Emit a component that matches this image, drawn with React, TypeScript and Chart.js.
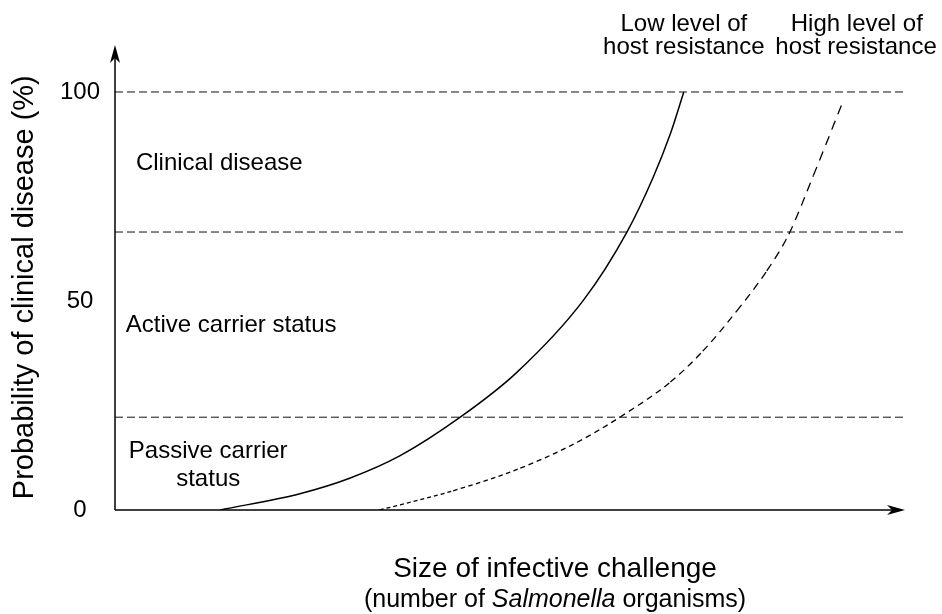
import { useEffect, useRef } from "react";
import { Chart, registerables } from "chart.js";

Chart.register(...registerables);

const FONT = '"Liberation Sans", Arial, Helvetica, sans-serif';

// Low level of host resistance (solid curve)
const lowResX = [13.3, 23.4, 29.7, 36.1, 43.7, 50.8, 59.3, 64.8, 68.1, 70.3, 72.0];
const lowResY = [0, 3.9, 7.6, 13.0, 22.2, 32.8, 50.2, 66.5, 79.5, 90.0, 100];

// High level of host resistance (dashed curve)
const highResX = [33.5, 42.8, 51.3, 58.5, 63.9, 70.3, 74.4, 78.7, 82.5, 85.3, 88.4, 92.2];
const highResY = [0, 4.6, 10.0, 16.2, 22.2, 30.6, 38.0, 47.6, 57.2, 66.0, 80.0, 98.0];

// Zone boundaries (probability %)
const zoneBoundaries = [22.2, 66.5, 100];
const xDomain = [0, 100];
const yTicks = [0, 50, 100];
const yMax = 111;

const zoneNames = [["Clinical disease"], ["Active carrier status"], ["Passive carrier", "status"]];
const curveNames = [["Low level of", "host resistance"], ["High level of", "host resistance"]];
const yTitle = "Probability of clinical disease (%)";
const xTitle = "Size of infective challenge";
const xSubtitleParts: [string, boolean][] = [["(number of ", false], ["Salmonella", true], [" organisms)", false]];

function drawArrow(ctx: CanvasRenderingContext2D, tx: number, ty: number, dx: number, dy: number) {
  const len = 18, half = 5, notch = 13;
  const px = -dy, py = dx;
  ctx.beginPath();
  ctx.moveTo(tx, ty);
  ctx.lineTo(tx - dx * len + px * half, ty - dy * len + py * half);
  ctx.lineTo(tx - dx * notch, ty - dy * notch);
  ctx.lineTo(tx - dx * len - px * half, ty - dy * len - py * half);
  ctx.closePath();
  ctx.fill();
}

const annotatePlugin = {
  id: "annotate",
  afterDatasetsDraw(chart: any) {
    const { ctx, chartArea, scales } = chart;
    const xs = scales.x, ys = scales.y;
    ctx.save();
    ctx.strokeStyle = "#000";
    ctx.fillStyle = "#000";
    ctx.lineWidth = 1.5;
    ctx.setLineDash([]);
    const x0 = xs.getPixelForValue(xDomain[0]);
    const y0 = ys.getPixelForValue(0);
    const xEnd = xs.getPixelForValue(xDomain[1]);
    const yTop = chartArea.top - 1;
    // x axis
    ctx.beginPath();
    ctx.moveTo(x0, y0);
    ctx.lineTo(xEnd - 12, y0);
    ctx.stroke();
    drawArrow(ctx, xEnd, y0, 1, 0);
    // y axis
    ctx.beginPath();
    ctx.moveTo(x0, y0);
    ctx.lineTo(x0, yTop + 12);
    ctx.stroke();
    drawArrow(ctx, x0, yTop, 0, -1);

    ctx.textAlign = "center";
    ctx.textBaseline = "alphabetic";
    ctx.font = `24px ${FONT}`;
    const txt = (s: string, xv: number, yv: number) =>
      ctx.fillText(s, xs.getPixelForValue(xv), ys.getPixelForValue(yv));

    // zone labels
    txt(zoneNames[0][0], 13.2, 81.3);
    txt(zoneNames[1][0], 14.7, 42.6);
    txt(zoneNames[2][0], 11.8, 12.4);
    txt(zoneNames[2][1], 11.8, 5.7);

    // curve labels
    txt(curveNames[0][0], 72.0, 114.6);
    txt(curveNames[0][1], 72.0, 109.1);
    txt(curveNames[1][0], 93.9, 114.6);
    txt(curveNames[1][1], 93.8, 109.1);

    // x title
    const cx = xs.getPixelForValue(55.7);
    ctx.font = `28px ${FONT}`;
    ctx.fillText(xTitle, cx, chartArea.bottom + 67);
    // subtitle with italic part
    const fonts = [`25px ${FONT}`, `italic 25px ${FONT}`];
    let total = 0;
    const widths = xSubtitleParts.map(([s, it]) => {
      ctx.font = fonts[it ? 1 : 0];
      const w = ctx.measureText(s).width;
      total += w;
      return w;
    });
    let sx = cx - total / 2;
    ctx.textAlign = "left";
    xSubtitleParts.forEach(([s, it], i) => {
      ctx.font = fonts[it ? 1 : 0];
      ctx.fillText(s, sx, chartArea.bottom + 97);
      sx += widths[i];
    });

    // y title
    ctx.save();
    ctx.translate(25, ys.getPixelForValue(53.3));
    ctx.rotate(-Math.PI / 2);
    ctx.textAlign = "center";
    ctx.textBaseline = "middle";
    ctx.font = `29px ${FONT}`;
    ctx.fillText(yTitle, 0, 0);
    ctx.restore();

    ctx.restore();
  },
};

export default function App() {
  const ref = useRef<HTMLCanvasElement | null>(null);
  useEffect(() => {
    if (!ref.current) return;
    const zoneSets = zoneBoundaries.map((b) => ({
      data: [
        { x: xDomain[0], y: b },
        { x: xDomain[1], y: b },
      ],
      borderColor: "#111",
      borderWidth: 1,
      borderDash: [8, 4],
      pointRadius: 0,
      fill: false,
    }));
    const chart = new Chart(ref.current, {
      type: "line",
      data: {
        datasets: [
          ...zoneSets,
          {
            data: lowResX.map((x, i) => ({ x, y: lowResY[i] })),
            borderColor: "#000",
            borderWidth: 1.5,
            pointRadius: 0,
            cubicInterpolationMode: "monotone",
            fill: false,
          },
          {
            data: highResX.map((x, i) => ({ x, y: highResY[i] })),
            borderColor: "#000",
            borderWidth: 1.3,
            pointRadius: 0,
            cubicInterpolationMode: "monotone",
            fill: false,
            segment: {
              borderDash: (c: any) => [4 + c.p0DataIndex * 0.55, 3 + c.p0DataIndex * 0.4],
            },
          },
        ] as any,
      },
      options: {
        animation: false,
        responsive: false,
        maintainAspectRatio: false,
        layout: { padding: { top: 46, right: 37, left: 0, bottom: 0 } },
        plugins: { legend: { display: false }, tooltip: { enabled: false } },
        scales: {
          x: {
            type: "linear",
            min: xDomain[0],
            max: xDomain[1],
            grid: { display: false, drawTicks: false },
            border: { display: false },
            ticks: { display: false },
            afterFit: (s: any) => {
              s.height = 104;
            },
          },
          y: {
            min: 0,
            max: yMax,
            grid: { display: false, drawTicks: false, tickLength: 0 },
            border: { display: false },
            afterBuildTicks: (s: any) => {
              s.ticks = yTicks.map((v) => ({ value: v }));
            },
            ticks: {
              font: { family: FONT, size: 24 },
              color: "#000",
              padding: 15,
              crossAlign: "center",
            },
            afterFit: (s: any) => {
              s.width = 115;
            },
          },
        },
      } as any,
      plugins: [annotatePlugin],
    });
    return () => chart.destroy();
  }, []);
  return (
    <div style={{ position: "absolute", left: 0, top: 0, width: 942, height: 614, background: "#fff" }}>
      <canvas ref={ref} width={942} height={614} style={{ display: "block" }} />
    </div>
  );
}
